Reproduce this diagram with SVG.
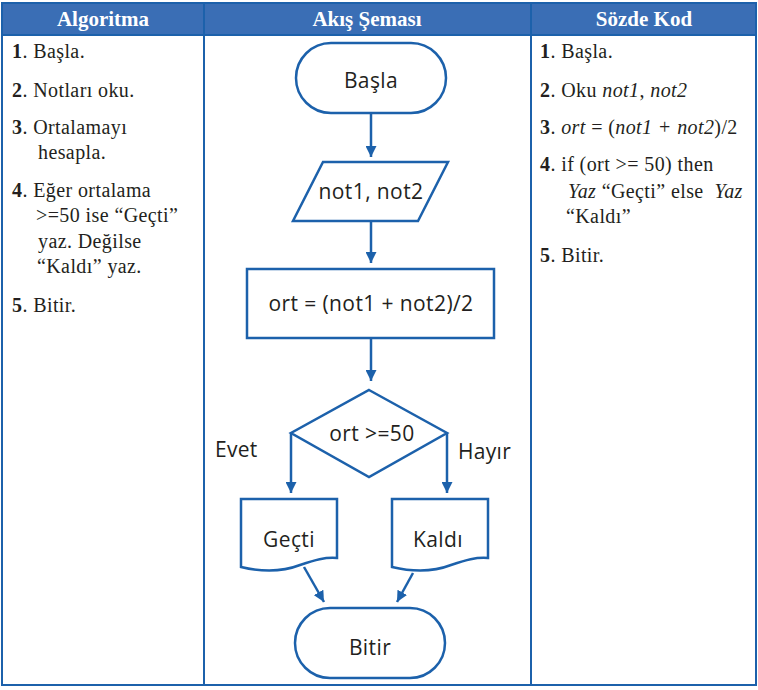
<svg xmlns="http://www.w3.org/2000/svg" width="758" height="690" viewBox="0 0 758 690">
<style>
.hdr{font-family:"Liberation Serif","Times New Roman",serif;font-size:21px;font-weight:bold;fill:#ffffff;text-anchor:middle}
.tx{font-family:"Liberation Serif","Times New Roman",serif;font-size:20px;letter-spacing:0.4px;fill:#231f20}
.b{font-weight:bold}
.i{font-style:italic}
.fc{font-family:"Open Sans","Noto Sans",sans-serif;font-size:21px;fill:#231f20;text-anchor:middle;letter-spacing:0.4px}
.lbl{font-family:"Open Sans","Noto Sans",sans-serif;font-size:21px;letter-spacing:0.3px;fill:#231f20}
.shape{fill:#ffffff;stroke:#1c61ab;stroke-width:2.5}
.conn{fill:none;stroke:#1c61ab;stroke-width:2.5}
.grid{fill:none;stroke:#1c61ab;stroke-width:2}
</style>
<defs>
<marker id="arr" viewBox="0 0 10 10" refX="10" refY="5" markerWidth="4.4" markerHeight="4.4" markerUnits="strokeWidth" orient="auto">
<path d="M0,0 L10,5 L0,10 Z" fill="#1c61ab"/>
</marker>
</defs>
<rect width="758" height="690" fill="#ffffff"/>
<g id="table">
<rect x="2" y="3" width="754" height="32" fill="#3a6eb5"/>
<rect x="2" y="3" width="754" height="682" class="grid"/>
<line x1="2" y1="35" x2="756" y2="35" class="grid"/>
<line x1="204" y1="3" x2="204" y2="685" class="grid"/>
<line x1="531" y1="3" x2="531" y2="685" class="grid"/>
<text x="103" y="26" class="hdr">Algoritma</text>
<text x="367" y="26" class="hdr">Akış Şeması</text>
<text x="644" y="26" class="hdr">Sözde Kod</text>
</g>
<g id="algorithm">
<text x="12" y="58" class="tx"><tspan class="b">1</tspan>. Başla.</text>
<text x="12" y="97" class="tx"><tspan class="b">2</tspan>. Notları oku.</text>
<text x="12" y="134" class="tx"><tspan class="b">3</tspan>. Ortalamayı</text>
<text x="38" y="159" class="tx">hesapla.</text>
<text x="12" y="197" class="tx"><tspan class="b">4</tspan>. Eğer ortalama</text>
<text x="36" y="222" class="tx">&gt;=50 ise “Geçti”</text>
<text x="38" y="248" class="tx">yaz. Değilse</text>
<text x="37" y="273" class="tx">“Kaldı” yaz.</text>
<text x="12" y="312" class="tx"><tspan class="b">5</tspan>. Bitir.</text>
</g>
<g id="pseudocode">
<text x="540" y="58" class="tx"><tspan class="b">1</tspan>. Başla.</text>
<text x="540" y="97" class="tx"><tspan class="b">2</tspan>. Oku <tspan class="i">not1</tspan>, <tspan class="i">not2</tspan></text>
<text x="540" y="134" class="tx"><tspan class="b">3</tspan>. <tspan class="i">ort</tspan> = (<tspan class="i">not1 + not2</tspan>)/2</text>
<text x="540" y="171" class="tx"><tspan class="b">4</tspan>. if (ort &gt;= 50) then</text>
<text x="568" y="198" class="tx"><tspan class="i">Yaz</tspan> “Geçti” else&#160; <tspan class="i">Yaz</tspan></text>
<text x="566" y="223" class="tx">“Kaldı”</text>
<text x="540" y="262" class="tx"><tspan class="b">5</tspan>. Bitir.</text>
</g>
<g id="connectors">
<line x1="371" y1="113" x2="371" y2="157" class="conn" marker-end="url(#arr)"/>
<line x1="371" y1="221" x2="371" y2="263" class="conn" marker-end="url(#arr)"/>
<line x1="371" y1="338" x2="371" y2="381" class="conn" marker-end="url(#arr)"/>
<polyline points="291,433 291,493" class="conn" marker-end="url(#arr)"/>
<polyline points="447,433 447,493" class="conn" marker-end="url(#arr)"/>
<line x1="304" y1="567" x2="324" y2="602" class="conn" marker-end="url(#arr)"/>
<line x1="413" y1="573" x2="397" y2="602" class="conn" marker-end="url(#arr)"/>
</g>
<g id="start">
<rect x="296" y="43" width="150" height="70" rx="35" ry="35" class="shape"/>
<text x="371" y="88" class="fc">Başla</text>
</g>
<g id="input">
<polygon points="323,162 448,162 418,221 293,221" class="shape"/>
<text x="371" y="199" class="fc">not1, not2</text>
</g>
<g id="process">
<rect x="247" y="269" width="247" height="69" class="shape"/>
<text x="371" y="311" class="fc">ort = (not1 + not2)/2</text>
</g>
<g id="decision">
<polygon points="369,390 447,433 369,477 291,433" class="shape"/>
<text x="372" y="441" class="fc">ort &gt;=50</text>
<text x="215" y="457" class="lbl">Evet</text>
<text x="458" y="459" class="lbl">Hayır</text>
</g>
<g id="gecti">
<path d="M241,499 H337 V558 C325,557 315,560 300,565 C282,572 262,572 241,567 Z" class="shape"/>
<text x="289" y="547" class="fc">Geçti</text>
</g>
<g id="kaldi">
<path d="M392,499 H488 V558 C476,557 466,560 451,565 C433,572 413,572 392,567 Z" class="shape"/>
<text x="438" y="547" class="fc">Kaldı</text>
</g>
<g id="end">
<rect x="295" y="608" width="150" height="70" rx="35" ry="35" class="shape"/>
<text x="370" y="655" class="fc">Bitir</text>
</g>
</svg>
